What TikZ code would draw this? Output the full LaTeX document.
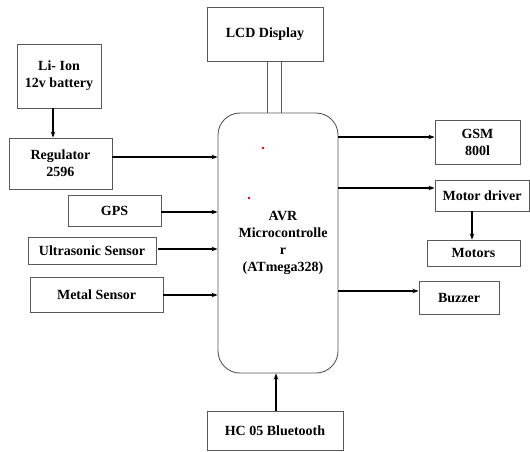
\documentclass[tikz,border=0pt]{standalone}
\usepackage{fontspec}
\setmainfont{Liberation Serif}
\usetikzlibrary{arrows.meta}
\begin{document}
\begin{tikzpicture}[x=1pt,y=-1pt,
  blk/.style={draw=black!65, line width=0.9pt, align=center, inner sep=1pt,
    font=\fontsize{14}{17}\selectfont\bfseries},
  conn/.style={line width=1.4pt, -{Stealth[length=6pt,width=4.5pt]}},
  bus/.style={draw=black!65, line width=0.9pt}]
\useasboundingbox[fill=white] (0,0) rectangle (530,451);
\node[blk, minimum width=84pt, minimum height=64pt] (bat) at (59,76) {Li- Ion\\12v battery};
\node[blk, minimum width=103pt, minimum height=51pt] (reg) at (60.5,163.5) {Regulator\\2596};
\node[blk, minimum width=93pt, minimum height=31pt] (gps) at (114.5,210.5) {GPS};
\node[blk, minimum width=128pt, minimum height=27pt] (ultra) at (92,250.5) {Ultrasonic Sensor};
\node[blk, minimum width=133pt, minimum height=35pt] (metal) at (96.5,294.5) {Metal Sensor};
\node[blk, minimum width=116pt, minimum height=54pt] (lcd) at (265,34) {LCD Display};
\node[blk, rounded corners=22pt, minimum width=120pt, minimum height=260pt] (mcu) at (278,243) {};
\node[blk, draw=none] (mcutext) at (283,242.5) {AVR\\Microcontrolle\\r\\(ATmega328)};
\node[blk, minimum width=85pt, minimum height=44pt] (gsm) at (477.5,142) {GSM\\800l};
\node[blk, minimum width=94pt, minimum height=31pt] (mdrv) at (482,195.5) {Motor driver};
\node[blk, minimum width=93pt, minimum height=26pt] (motors) at (473.5,253) {Motors};
\node[blk, minimum width=80pt, minimum height=33pt] (buzzer) at (459,297.5) {Buzzer};
\node[blk, minimum width=136pt, minimum height=39pt] (hc) at (275,430.5) {HC 05 Bluetooth};
\fill[red!85!black] (263,148) circle (1.3pt) (249,198) circle (1.3pt);
\draw[bus] (lcd.south -| 267,0) -- (mcu.north -| 267,0);
\draw[bus] (lcd.south -| 281,0) -- (mcu.north -| 281,0);
\draw[conn] (bat.south -| 53,0) -- (reg.north -| 53,0);
\draw[conn] (reg.east |- 0,157) -- (mcu.west |- 0,157);
\draw[conn] (gps.east |- 0,212) -- (mcu.west |- 0,212);
\draw[conn] ([xshift=2pt]ultra.east |- 0,249) -- (mcu.west |- 0,249);
\draw[conn] (metal.east |- 0,295) -- (mcu.west |- 0,295);
\draw[conn] (mcu.east |- 0,137) -- (gsm.west |- 0,137);
\draw[conn] (mcu.east |- 0,188) -- (mdrv.west |- 0,188);
\draw[conn] (mdrv.south -| 472,0) -- (motors.north -| 472,0);
\draw[conn] (mcu.east |- 0,291) -- (buzzer.west |- 0,291);
\draw[conn] (hc.north -| 276,0) -- (mcu.south -| 276,0);
\end{tikzpicture}
\end{document}
